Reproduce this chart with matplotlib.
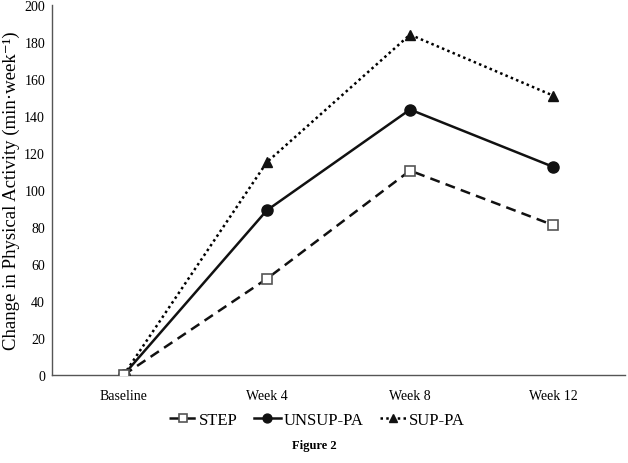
import matplotlib
matplotlib.use("Agg")
import matplotlib.pyplot as plt

categories = ["Baseline", "Week 4", "Week 8", "Week 12"]
step = [0, 52, 110.5, 81]
unsup_pa = [0, 89, 143.5, 112.5]
sup_pa = [0, 115, 184, 151]
yticks = [0, 20, 40, 60, 80, 100, 120, 140, 160, 180, 200]

plt.rcParams['font.family'] = ['Liberation Serif', 'DejaVu Serif']
plt.rcParams['mathtext.fontset'] = 'stix'

fig = plt.figure(figsize=(6.28, 4.64), dpi=100)
ax = fig.add_axes([0.0828, 0.1897, 0.9122, 0.7973])
x = list(range(len(categories)))

ax.plot(x, sup_pa, linestyle=(0, (1, 1.3)), color='black', linewidth=1.8,
        marker='^', markersize=7, markerfacecolor='#111111', markeredgecolor='#111111', label='SUP-PA', zorder=2)
ax.plot(x, unsup_pa, linestyle='-', color='#111111', linewidth=1.8,
        marker='o', markersize=8, markerfacecolor='#111111', markeredgecolor='#111111', label='UNSUP-PA', zorder=3)
ax.plot(x, step, linestyle=(0, (4, 2.5)), color='#111111', linewidth=1.8,
        marker='s', markersize=7.5, markerfacecolor='white', markeredgecolor='#555555', markeredgewidth=1.2,
        label='STEP', zorder=4)

ax.set_xlim(-0.5, 3.5)
ax.set_ylim(0, 200)
ax.set_yticks(yticks)
ax.set_xticks(x)
ax.set_xticklabels(categories, fontsize=10)
ax.tick_params(axis='y', length=0, labelsize=10, pad=5)
ax.tick_params(axis='x', length=0, labelsize=10, pad=10)
for s in ['top', 'right']:
    ax.spines[s].set_visible(False)
for s in ['left', 'bottom']:
    ax.spines[s].set_color('#555555')
    ax.spines[s].set_linewidth(1)

ax.set_ylabel("Change in Physical Activity (min·week⁻¹)", fontsize=13.5, va='center')
ax.yaxis.set_label_coords(-0.071, 0.5)

handles, labels = ax.get_legend_handles_labels()
order = [2, 1, 0]
leg = fig.legend([handles[i] for i in order], [labels[i] for i in order], loc='center',
                 bbox_to_anchor=(0.505, 0.093), ncol=3, frameon=False, fontsize=12,
                 handlelength=1.6, handletextpad=0.15, columnspacing=1.0, markerscale=0.8)

fig.text(0.5, 0.038, "Figure 2", ha='center', va='center', fontsize=9, fontweight='bold')

fig.savefig("out.png", dpi=100)
